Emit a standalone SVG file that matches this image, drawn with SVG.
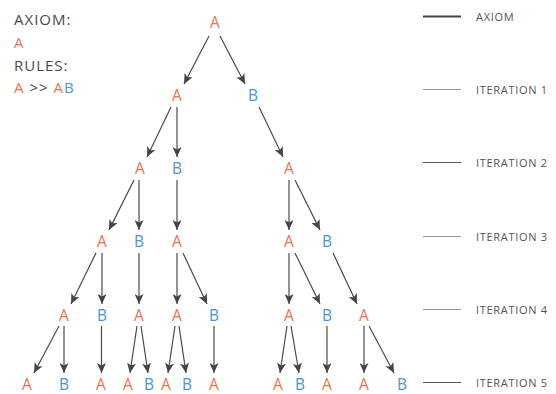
<svg xmlns="http://www.w3.org/2000/svg" width="556" height="394" viewBox="0 0 556 394">
<defs>
<marker id="ah" markerWidth="10" markerHeight="9" refX="10" refY="4.5" orient="auto" markerUnits="userSpaceOnUse">
<path d="M0,0 L10,4.5 L0,9 L2.5,4.5 z" fill="#444"/>
</marker>
<style>
text{font-family:"Open Sans","DejaVu Sans",sans-serif}
.n{font-size:15.5px;text-anchor:middle}
.a{fill:#F0714F}
.b{fill:#4A97D2}
.h{font-size:15px;fill:#4a4a4a;letter-spacing:1px}
.lg{font-size:11px;fill:#555;letter-spacing:0.7px}
.e line{stroke:#4a4a4a;stroke-width:1.2;marker-end:url(#ah)}
</style>
</defs>
<rect width="556" height="394" fill="#fff"/>
<g id="header">
<text class="h" x="14" y="25">AXIOM:</text>
<text class="h" x="14" y="48" style="fill:#F0714F">A</text>
<text class="h" x="14" y="71">RULES:</text>
<text class="h" x="14" y="93"><tspan style="fill:#F0714F">A</tspan> &gt;&gt; <tspan style="fill:#F0714F">A</tspan><tspan style="fill:#4A97D2">B</tspan></text>
</g>
<g id="legend">
<line x1="423" y1="16.5" x2="461" y2="16.5" stroke="#444" stroke-width="2"/>
<text class="lg" x="476" y="21">AXIOM</text>
<line x1="423" y1="89.5" x2="461" y2="89.5" stroke="#999" stroke-width="1"/>
<text class="lg" x="476" y="94">ITERATION 1</text>
<line x1="423" y1="162.5" x2="461" y2="162.5" stroke="#555" stroke-width="1"/>
<text class="lg" x="476" y="167">ITERATION 2</text>
<line x1="423" y1="236.5" x2="461" y2="236.5" stroke="#999" stroke-width="1"/>
<text class="lg" x="476" y="241">ITERATION 3</text>
<line x1="423" y1="309.5" x2="461" y2="309.5" stroke="#999" stroke-width="1"/>
<text class="lg" x="476" y="314">ITERATION 4</text>
<line x1="423" y1="382.5" x2="461" y2="382.5" stroke="#555" stroke-width="1"/>
<text class="lg" x="476" y="387">ITERATION 5</text>
</g>
<g id="connectors" class="e">
<line x1="209" y1="36" x2="184" y2="84"/>
<line x1="220" y1="36" x2="245" y2="84"/>
<line x1="171" y1="107" x2="147" y2="157"/>
<line x1="177" y1="107" x2="177" y2="157"/>
<line x1="259" y1="107" x2="283" y2="157"/>
<line x1="134" y1="180" x2="109" y2="230"/>
<line x1="139" y1="180" x2="139" y2="230"/>
<line x1="177" y1="180" x2="177" y2="230"/>
<line x1="289" y1="180" x2="289" y2="230"/>
<line x1="295" y1="180" x2="320" y2="230"/>
<line x1="96" y1="253" x2="71" y2="304"/>
<line x1="102" y1="253" x2="102" y2="304"/>
<line x1="139" y1="253" x2="139" y2="304"/>
<line x1="177" y1="253" x2="177" y2="304"/>
<line x1="183" y1="253" x2="207" y2="304"/>
<line x1="289" y1="253" x2="289" y2="304"/>
<line x1="295" y1="253" x2="320" y2="304"/>
<line x1="333" y1="253" x2="357" y2="304"/>
<line x1="59" y1="326" x2="34" y2="373"/>
<line x1="64" y1="326" x2="64" y2="373"/>
<line x1="101.5" y1="326" x2="101.5" y2="373"/>
<line x1="137" y1="326" x2="130" y2="373"/>
<line x1="141" y1="326" x2="148" y2="373"/>
<line x1="175" y1="326" x2="168" y2="373"/>
<line x1="179" y1="326" x2="186" y2="373"/>
<line x1="214" y1="326" x2="214" y2="373"/>
<line x1="287" y1="326" x2="280" y2="373"/>
<line x1="291" y1="326" x2="299" y2="373"/>
<line x1="327" y1="326" x2="327" y2="373"/>
<line x1="364" y1="326" x2="364" y2="373"/>
<line x1="369" y1="326" x2="394" y2="373"/>
</g>
<g id="n0"><text class="n a" x="215" y="28">A</text></g>
<g id="n1a"><text class="n a" x="177" y="101">A</text></g>
<g id="n1b"><text class="n b" x="253" y="101">B</text></g>
<g id="n2a"><text class="n a" x="140" y="174">A</text></g>
<g id="n2b"><text class="n b" x="177" y="174">B</text></g>
<g id="n2c"><text class="n a" x="289" y="174">A</text></g>
<g id="n3a"><text class="n a" x="102" y="247">A</text></g>
<g id="n3b"><text class="n b" x="139" y="247">B</text></g>
<g id="n3c"><text class="n a" x="177" y="247">A</text></g>
<g id="n3d"><text class="n a" x="289" y="247">A</text></g>
<g id="n3e"><text class="n b" x="327" y="247">B</text></g>
<g id="n4a"><text class="n a" x="64" y="321">A</text></g>
<g id="n4b"><text class="n b" x="102" y="321">B</text></g>
<g id="n4c"><text class="n a" x="139" y="321">A</text></g>
<g id="n4d"><text class="n a" x="177" y="321">A</text></g>
<g id="n4e"><text class="n b" x="214" y="321">B</text></g>
<g id="n4f"><text class="n a" x="289" y="321">A</text></g>
<g id="n4g"><text class="n b" x="327" y="321">B</text></g>
<g id="n4h"><text class="n a" x="364" y="321">A</text></g>
<g id="n5a"><text class="n a" x="27" y="390">A</text></g>
<g id="n5b"><text class="n b" x="64" y="390">B</text></g>
<g id="n5c"><text class="n a" x="101" y="390">A</text></g>
<g id="n5d"><text class="n a" x="128" y="390">A</text></g>
<g id="n5e"><text class="n b" x="149" y="390">B</text></g>
<g id="n5f"><text class="n a" x="166" y="390">A</text></g>
<g id="n5g"><text class="n b" x="187" y="390">B</text></g>
<g id="n5h"><text class="n a" x="214" y="390">A</text></g>
<g id="n5i"><text class="n a" x="278" y="390">A</text></g>
<g id="n5j"><text class="n b" x="300" y="390">B</text></g>
<g id="n5k"><text class="n a" x="327" y="390">A</text></g>
<g id="n5l"><text class="n a" x="364" y="390">A</text></g>
<g id="n5m"><text class="n b" x="402" y="390">B</text></g>
</svg>
